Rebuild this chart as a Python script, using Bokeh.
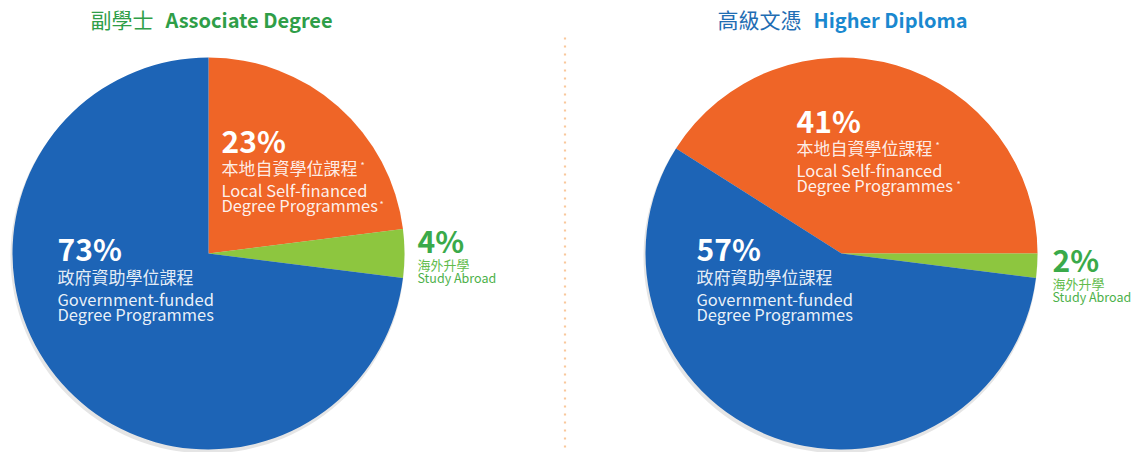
import math
from bokeh.plotting import figure
from bokeh.models import Range1d, ColumnDataSource
from bokeh.embed import file_html
from bokeh.resources import INLINE
from bokeh.core.properties import value

# ---------------- data ----------------
segment_zh = ["本地自資學位課程", "海外升學", "政府資助學位課程"]
segment_en1 = ["Local Self-financed", "Study Abroad", "Government-funded"]
segment_en2 = ["Degree Programmes", "", "Degree Programmes"]
ad_values = [23, 4, 73]      # Associate Degree
hd_values = [41, 2, 57]      # Higher Diploma
ad_title_zh, ad_title_en = "副學士", "Associate Degree"
hd_title_zh, hd_title_en = "高級文憑", "Higher Diploma"

# ---------------- styles ----------------
slice_colors = ["#EF6527", "#8DC63F", "#1D64B6"]
FONT = "Noto Sans CJK TC"
W, H = 1132, 452
BASE_FIX = 0.42   # empirical baseline correction (fraction of font size)

p = figure(width=W, height=H, output_backend="svg", toolbar_location=None,
           x_range=Range1d(0, W), y_range=Range1d(0, H), min_border=0,
           background_fill_color="white", border_fill_color="white")
p.axis.visible = False
p.grid.visible = False
p.outline_line_color = None


def angles(values, start_deg):
    s, e = [], []
    a = start_deg
    for v in values:
        s.append(math.radians(a))
        a -= v * 3.6
        e.append(math.radians(a))
    return s, e


def draw_pie(cx, cy, r, values, start_deg):
    # soft shadow
    p.circle(x=[cx - 1], y=[cy - 3], radius=r + 1, fill_color="#000000",
             fill_alpha=0.10, line_color=None)
    s, e = angles(values, start_deg)
    src = ColumnDataSource(dict(start=s, end=e, color=slice_colors,
                                name=segment_zh, val=values))
    p.wedge(x=cx, y=cy, radius=r, start_angle="start", end_angle="end",
            direction="clock", fill_color="color", line_color=None, source=src)


R = 196
draw_pie(208, 199, R, ad_values, 90)
draw_pie(841, 199, R, hd_values, hd_values[0] * 3.6)  # orange ends at 3 o'clock

# dotted divider
p.line(x=[564.5, 564.5], y=[415, 5], line_color="#F9C89C", line_width=2.2,
       line_dash="2 6")


def txt(x, py, s, size, color, bold=False, alpha=1.0):
    """x in px, py = page pixel y of the alphabetic baseline."""
    y = H - py + BASE_FIX * size
    p.text(x=[x], y=[y], text=[s], text_font=value(FONT),
           text_font_size=value(f"{size}px"), text_color=color,
           text_font_style="bold" if bold else "normal", text_alpha=alpha,
           text_baseline="alphabetic", text_align="left")


# titles
txt(90, 27, ad_title_zh, 21, "#2F9E48")
txt(165, 27, ad_title_en, 20, "#2F9E48", bold=True)
txt(717, 27, hd_title_zh, 21, "#1F6DB3")
txt(813, 27, hd_title_en, 20, "#1A88CF", bold=True)

PCT, ZH, EN = 30, 17, 16.5


def labels(vals, xo, yo, xb, yb, xg, yg, ast):
    # orange slice
    txt(xo, yo, f"{vals[0]}%", PCT, "white", bold=True)
    txt(xo, yo + 22, segment_zh[0], ZH, "white", alpha=0.9)
    txt(xo, yo + 44, segment_en1[0], EN, "white", alpha=0.92)
    txt(xo, yo + 59, segment_en2[0], EN, "white", alpha=0.92)
    txt(ast[0], yo + 17, "*", 9, "white", alpha=0.9)
    txt(ast[1], yo + 56, "*", 9, "white", alpha=0.9)
    # blue slice
    txt(xb, yb, f"{vals[2]}%", PCT, "white", bold=True)
    txt(xb, yb + 23, segment_zh[2], ZH, "white", alpha=0.9)
    txt(xb, yb + 45, segment_en1[2], EN, "white", alpha=0.92)
    txt(xb, yb + 60, segment_en2[2], EN, "white", alpha=0.92)
    # green slice
    txt(xg, yg, f"{vals[1]}%", PCT, "#3AAA4A", bold=True)
    txt(xg, yg + 17, segment_zh[1], 13, "#62BC4C")
    txt(xg, yg + 30, segment_en1[1], 12.5, "#4DB14A")


labels(ad_values, 221, 152, 57, 260, 417, 252, (360, 379))
labels(hd_values, 796, 132, 696, 260, 1052, 271, (935, 956))

open("out.html", "w").write(file_html(p, INLINE))
